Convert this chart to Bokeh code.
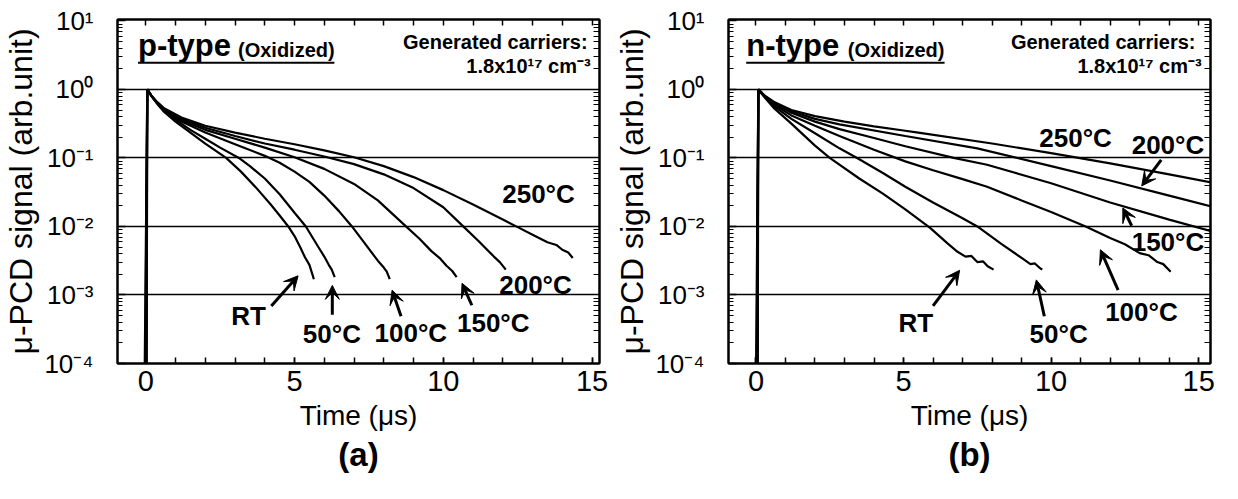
from bokeh.plotting import figure
from bokeh.layouts import row
from bokeh.models import (Range1d, FixedTicker, LinearAxis, LogAxis, Title,
                          CustomJSTickFormatter, Label, Arrow, VeeHead)
from bokeh.embed import file_html
from bokeh.resources import INLINE

FONT = "Liberation Sans"

# ---------------- data (time in us, log10 of signal) ----------------
temps = ["RT", "50", "100", "150", "200", "250"]

# p-type (a)
p_t_RT = [-0.04, 0.05, 0.2, 0.4, 0.6, 1.0, 1.5, 2.0, 2.7, 3.2, 3.7, 4.2, 4.5, 4.79, 5.0, 5.2, 5.35, 5.5, 5.6, 5.65]
p_v_RT = [-4.3, 0.0, -0.1, -0.22, -0.32, -0.47, -0.63, -0.79, -1.0, -1.2, -1.43, -1.68, -1.84, -2.0, -2.14, -2.31, -2.45, -2.56, -2.7, -2.77]
p_t_50 = [-0.02, 0.05, 0.2, 0.4, 0.6, 1.0, 1.5, 2.0, 2.5, 3.13, 3.5, 4.0, 4.5, 5.0, 5.38, 5.8, 6.0, 6.15, 6.25, 6.35]
p_v_50 = [-4.3, 0.0, -0.1, -0.21, -0.31, -0.44, -0.59, -0.72, -0.85, -1.0, -1.12, -1.3, -1.53, -1.8, -2.0, -2.3, -2.44, -2.56, -2.63, -2.74]
p_t_100 = [0.0, 0.05, 0.2, 0.4, 0.6, 1.2, 2.0, 3.0, 4.0, 4.5, 5.0, 5.5, 6.0, 6.5, 6.93, 7.4, 7.8, 8.0, 8.1, 8.2]
p_v_100 = [-4.3, 0.0, -0.1, -0.21, -0.3, -0.47, -0.63, -0.8, -0.97, -1.07, -1.2, -1.35, -1.55, -1.78, -2.0, -2.27, -2.5, -2.6, -2.66, -2.77]
p_t_150 = [0.01, 0.05, 0.2, 0.4, 0.6, 1.2, 2.0, 3.0, 4.0, 5.0, 6.0, 7.0, 7.8, 8.7, 9.2, 9.6, 9.9, 10.1, 10.3, 10.45]
p_v_150 = [-4.3, 0.0, -0.1, -0.2, -0.29, -0.45, -0.59, -0.72, -0.85, -0.99, -1.16, -1.38, -1.62, -1.98, -2.18, -2.36, -2.47, -2.57, -2.65, -2.74]
p_t_200 = [0.02, 0.05, 0.2, 0.4, 0.6, 1.2, 2.0, 3.0, 4.0, 5.0, 6.0, 7.0, 8.0, 9.0, 10.0, 10.6, 11.2, 11.7, 11.9, 12.1]
p_v_200 = [-4.3, 0.0, -0.1, -0.2, -0.28, -0.43, -0.56, -0.68, -0.79, -0.88, -0.98, -1.09, -1.24, -1.44, -1.72, -1.97, -2.22, -2.44, -2.52, -2.63]
p_t_250 = [0.03, 0.05, 0.2, 0.4, 0.6, 1.2, 2.0, 3.0, 4.0, 5.0, 6.0, 7.0, 8.0, 9.0, 10.0, 11.0, 12.0, 12.5, 13.0, 13.5, 13.8, 14.0, 14.2, 14.35]
p_v_250 = [-4.3, 0.0, -0.1, -0.19, -0.27, -0.41, -0.53, -0.63, -0.72, -0.8, -0.89, -0.99, -1.12, -1.28, -1.47, -1.68, -1.9, -2.01, -2.12, -2.23, -2.27, -2.34, -2.38, -2.46]

# n-type (b)
n_t_RT = [0.0, 0.08, 0.3, 0.6, 1.2, 2.0, 2.5, 3.5, 4.3, 5.06, 5.9, 6.5, 6.83, 7.1, 7.3, 7.5, 7.7, 7.85, 8.05]
n_v_RT = [-4.3, 0.0, -0.12, -0.27, -0.5, -0.82, -1.0, -1.3, -1.52, -1.75, -2.02, -2.25, -2.37, -2.44, -2.43, -2.52, -2.51, -2.58, -2.63]
n_t_50 = [0.02, 0.08, 0.3, 0.6, 1.2, 2.0, 2.83, 3.5, 4.3, 5.06, 6.0, 7.0, 7.5, 8.3, 9.0, 9.3, 9.45, 9.6, 9.7]
n_v_50 = [-4.3, 0.0, -0.11, -0.24, -0.43, -0.64, -0.86, -1.02, -1.22, -1.42, -1.65, -1.88, -2.0, -2.25, -2.46, -2.55, -2.54, -2.6, -2.63]
n_t_100 = [0.03, 0.08, 0.3, 0.6, 1.2, 2.0, 2.83, 4.0, 5.06, 6.0, 7.0, 7.83, 9.0, 10.0, 11.17, 12.0, 12.5, 13.0, 13.3, 13.6, 13.8, 14.05]
n_v_100 = [-4.3, 0.0, -0.1, -0.22, -0.38, -0.53, -0.68, -0.88, -1.05, -1.18, -1.31, -1.42, -1.62, -1.79, -2.0, -2.17, -2.26, -2.39, -2.42, -2.52, -2.55, -2.66]
n_t_150 = [0.04, 0.08, 0.3, 0.6, 1.2, 2.0, 2.83, 4.0, 5.06, 6.7, 7.83, 10.0, 12.0, 14.0, 15.44]
n_v_150 = [-4.3, 0.0, -0.1, -0.2, -0.34, -0.47, -0.58, -0.71, -0.83, -1.0, -1.1, -1.37, -1.65, -1.9, -2.07]
n_t_200 = [0.05, 0.08, 0.3, 0.6, 1.2, 2.0, 2.83, 5.06, 7.5, 10.0, 12.0, 14.0, 15.44]
n_v_200 = [-4.3, 0.0, -0.1, -0.19, -0.32, -0.43, -0.51, -0.68, -0.86, -1.12, -1.33, -1.55, -1.71]
n_t_250 = [0.06, 0.08, 0.3, 0.6, 1.2, 2.0, 3.0, 4.0, 5.0, 5.5, 8.0, 10.0, 12.0, 14.0, 15.44]
n_v_250 = [-4.3, 0.0, -0.09, -0.18, -0.3, -0.39, -0.47, -0.54, -0.6, -0.63, -0.79, -0.93, -1.08, -1.24, -1.36]

y_major = [1e-4, 1e-3, 1e-2, 1e-1, 1e0, 1e1]
grid_decades = [1e-3, 1e-2, 1e-1, 1e0]
x_major = [0, 5, 10, 15]
x_minor = list(range(0, 16))

# annotation texts (label, x in us, log10 y of text middle)
p_labels = [("RT", 2.87, -3.30), ("50\u00b0C", 5.28, -3.57), ("100\u00b0C", 7.69, -3.56),
            ("150\u00b0C", 10.46, -3.41), ("200\u00b0C", 11.88, -2.855), ("250\u00b0C", 11.98, -1.525)]
p_arrows = [(4.22, -3.16, 5.12, -2.72), (6.27, -3.29, 6.27, -2.86),
            (8.58, -3.31, 8.28, -2.93), (10.96, -3.15, 10.63, -2.83)]
n_labels = [("RT", 4.83, -3.41), ("50\u00b0C", 9.27, -3.57), ("100\u00b0C", 11.83, -3.25),
            ("150\u00b0C", 12.73, -2.227), ("200\u00b0C", 12.73, -0.808), ("250\u00b0C", 9.6, -0.706)]
n_arrows = [(6.0, -3.16, 6.9, -2.64), (9.77, -3.31, 9.5, -2.78), (12.27, -2.93, 11.67, -2.34),
            (12.73, -1.99, 12.43, -1.73), (13.73, -1.028, 13.07, -1.408)]

sup_fmt = CustomJSTickFormatter(code="""
const e = Math.round(Math.log10(tick));
const sup = {'-':'\u207b','0':'\u2070','1':'\u00b9','2':'\u00b2','3':'\u00b3','4':'\u2074'};
return '10' + String(e).split('').map(c => sup[c]).join('');
""")


def y_minor():
    out = []
    for e in range(-4, 1):
        for k in range(2, 10):
            out.append(k * 10.0 ** e)
    return out


def make_panel(curves, xr, kind, labels, arrows, letter, title_x0, title_x1, ox_x, gen_x, gen2_x):
    p = figure(width=611, height=483, x_range=Range1d(*xr), y_range=Range1d(1e-4, 10 ** 1.02),
               y_axis_type="log", output_backend="svg", toolbar_location=None,
               min_border_left=108, min_border_right=12, min_border_top=19, min_border_bottom=120)
    p.outline_line_color = "black"
    p.outline_line_width = 2
    p.background_fill_color = "white"
    p.border_fill_color = "white"
    p.xgrid.visible = False
    p.ygrid.ticker = FixedTicker(ticks=grid_decades)
    p.ygrid.grid_line_color = "black"
    p.ygrid.grid_line_width = 1.3
    p.ygrid.grid_line_alpha = 1.0

    xa = p.xaxis[0]
    xa.ticker = FixedTicker(ticks=x_major, minor_ticks=x_minor)
    xa.axis_label = "Time (\u03bcs)"
    xa.axis_label_text_font = FONT
    xa.axis_label_text_font_style = "normal"
    xa.axis_label_text_font_size = "28px"
    xa.axis_label_text_color = "black"
    xa.axis_label_standoff = 6
    xa.major_label_text_font = FONT
    xa.major_label_text_font_size = "29px"
    xa.major_label_text_color = "black"
    xa.major_label_standoff = 7
    xa.major_tick_in = 6
    xa.major_tick_out = 0
    xa.minor_tick_in = 6
    xa.minor_tick_out = 0
    xa.axis_line_width = 2
    xa.major_tick_line_width = 1.5
    xa.minor_tick_line_width = 1.5

    ya = p.yaxis[0]
    ya.ticker = FixedTicker(ticks=y_major, minor_ticks=y_minor())
    ya.formatter = sup_fmt
    ya.axis_label = "\u03bc-PCD signal (arb.unit)"
    ya.axis_label_text_font = FONT
    ya.axis_label_text_font_style = "normal"
    ya.axis_label_text_font_size = "32px"
    ya.axis_label_text_color = "black"
    ya.axis_label_standoff = 2
    ya.major_label_text_font = FONT
    ya.major_label_text_font_size = "26px"
    ya.major_label_text_color = "black"
    ya.major_label_standoff = 24
    ya.major_tick_in = 8
    ya.major_tick_out = 0
    ya.minor_tick_in = 5
    ya.minor_tick_out = 0
    ya.axis_line_width = 2
    ya.major_tick_line_width = 1.5
    ya.minor_tick_line_width = 1.2

    top = LinearAxis(ticker=FixedTicker(ticks=[], minor_ticks=x_minor), axis_line_width=2,
                     minor_tick_in=6, minor_tick_out=0, major_tick_in=0, major_tick_out=0,
                     minor_tick_line_width=1.5, major_label_standoff=0)
    p.add_layout(top, "above")
    right = LogAxis(ticker=FixedTicker(ticks=[], minor_ticks=y_minor()), axis_line_width=2,
                    minor_tick_in=6, minor_tick_out=0, major_tick_in=0, major_tick_out=0,
                    minor_tick_line_width=1.2, major_label_standoff=0)
    p.add_layout(right, "right")

    for t, v in curves:
        p.line(t, [10 ** a for a in v], line_color="black", line_width=2.2)

    for txt, x, y in labels:
        p.add_layout(Label(x=x, y=10 ** y, text=txt, text_font=FONT, text_font_style="bold",
                           text_font_size="26px", text_color="black", text_baseline="middle",
                           text_align="left"))
    for x0, y0, x1, y1 in arrows:
        p.add_layout(Arrow(x_start=x0, y_start=10 ** y0, x_end=x1, y_end=10 ** y1, line_width=3,
                           line_color="black",
                           end=VeeHead(size=14, fill_color="black", line_color="black", line_width=1)))

    # panel heading
    p.add_layout(Label(x=title_x0, y=10 ** 0.646, text=kind, text_font=FONT, text_font_style="bold",
                       text_font_size="31px", text_color="black", text_baseline="middle"))
    p.add_layout(Label(x=ox_x, y=10 ** 0.58, text="(Oxidized)", text_font=FONT, text_font_style="bold",
                       text_font_size="20px", text_color="black", text_baseline="middle"))
    p.segment(x0=[title_x0], y0=[10 ** 0.39], x1=[title_x1], y1=[10 ** 0.39],
              line_color="black", line_width=2)
    p.add_layout(Label(x=gen_x, y=10 ** 0.697, text="Generated carriers:", text_font=FONT,
                       text_font_style="bold", text_font_size="20px", text_color="black",
                       text_align="right", text_baseline="middle"))
    p.add_layout(Label(x=gen2_x, y=10 ** 0.342, text="1.8x10\u00b9\u2077 cm\u207b\u00b3", text_font=FONT,
                       text_font_style="bold", text_font_size="20px", text_color="black",
                       text_align="right", text_baseline="middle"))
    # sub-figure letter below the axis
    p.add_layout(Title(text=letter, align="center", text_font=FONT, text_font_style="bold",
                       text_font_size="33px", text_color="black", standoff=0, offset=0), "below")
    return p


p_curves = [(p_t_RT, p_v_RT), (p_t_50, p_v_50), (p_t_100, p_v_100),
            (p_t_150, p_v_150), (p_t_200, p_v_200), (p_t_250, p_v_250)]
n_curves = [(n_t_RT, n_v_RT), (n_t_50, n_v_50), (n_t_100, n_v_100),
            (n_t_150, n_v_150), (n_t_200, n_v_200), (n_t_250, n_v_250)]

p1 = make_panel(p_curves, (-0.95, 15.25), "p-type", p_labels, p_arrows, "(a)",
                -0.26, 6.34, 3.1, 14.85, 14.95)
p2 = make_panel(n_curves, (-0.93, 15.4), "n-type", n_labels, n_arrows, "(b)",
                -0.33, 6.39, 3.11, 14.89, 15.1)

layout = row(p1, p2)
open("out.html", "w").write(file_html(layout, INLINE))
